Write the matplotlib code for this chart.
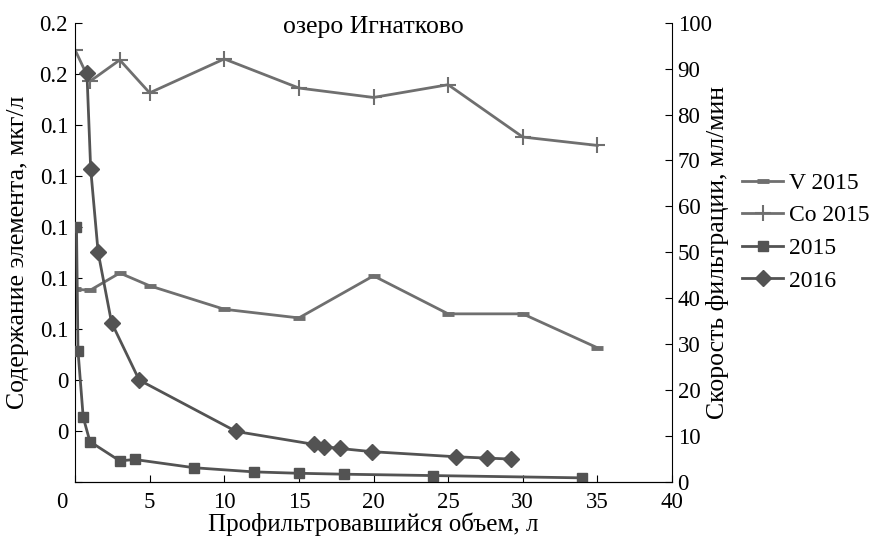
import matplotlib
matplotlib.use('Agg')
import matplotlib.pyplot as plt
import matplotlib.transforms as mtransforms
import numpy as np

plt.rcParams['font.family'] = ['Liberation Serif', 'DejaVu Serif']
plt.rcParams['font.size'] = 16.5

# concentration series (left axis), мкг/л
x_conc = [0, 1, 3, 5, 10, 15, 20, 25, 30, 35]
v_2015 = [0.0756, 0.0751, 0.0819, 0.0769, 0.0677, 0.0643, 0.0808, 0.0659, 0.0659, 0.0526]
co_2015 = [0.1694, 0.1570, 0.1654, 0.1525, 0.1658, 0.1544, 0.1507, 0.1557, 0.1352, 0.1319]

# filtration speed (right axis), мл/мин
x_2015 = [0.1, 0.2, 0.55, 1.0, 3, 4, 8, 12, 15, 18, 24, 34]
speed_2015 = [55.6, 28.6, 14.1, 8.8, 4.6, 4.9, 3.1, 2.2, 1.9, 1.7, 1.4, 0.9]
x_2016 = [0.8, 1.05, 1.55, 2.45, 4.3, 10.8, 16.0, 16.7, 17.75, 19.9, 25.5, 27.6, 29.2]
speed_2016 = [89.0, 68.2, 50.0, 34.7, 22.2, 11.0, 8.2, 7.7, 7.3, 6.6, 5.5, 5.2, 5.0]

left_ticks = np.arange(0, 0.181, 0.02)
right_ticks = np.arange(0, 101, 10)
x_ticks = np.arange(0, 41, 5)

light = '#6f6f6f'
dark = '#535353'

fig = plt.figure(figsize=(8.74, 5.4), dpi=100)
ax = fig.add_axes([75 / 874, 58 / 540, 597 / 874, 459.3 / 540])
ax2 = ax.twinx()

l1, = ax.plot(x_conc, v_2015, color=light, lw=2, marker='_', ms=9, mew=3.5, label='V 2015')
l2, = ax.plot(x_conc, co_2015, color=light, lw=2, marker='+', ms=11, mew=1.5, label='Co 2015')
l3, = ax2.plot(x_2015, speed_2015, color=dark, lw=2, marker='s', ms=7.5, label='2015')
l4, = ax2.plot(x_2016, speed_2016, color=dark, lw=2, marker='D', ms=8.5, label='2016')

ax.set_xlim(0, 40)
ax.set_ylim(0, 0.18)
ax2.set_ylim(0, 100)

ax.set_xticks(x_ticks)
ax.set_yticks(left_ticks)
# the corner "0" is shown once, by the x axis
ax.set_yticklabels(['' if v == 0 else ('0' if round(v, 1) == 0 else f'{v:.1f}') for v in left_ticks])
ax2.set_yticks(right_ticks)

for a in (ax, ax2):
    a.spines['top'].set_visible(False)
ax.spines['right'].set_visible(False)
ax2.spines['left'].set_visible(False)

ax.tick_params(axis='x', direction='in', length=5, pad=7)
ax.tick_params(axis='y', direction='in', length=5, pad=5)
ax2.tick_params(axis='y', direction='in', length=5, pad=4)

# shift x "0" label left, as in the original
first = ax.get_xticklabels()[0]
first.set_transform(first.get_transform() + mtransforms.ScaledTranslation(-13 / 100, 0, fig.dpi_scale_trans))

ax.set_xlabel('Профильтровавшийся объем, л', fontsize=18)
ax.set_ylabel('Содержание элемента, мкг/л', fontsize=18.5)
ax2.set_ylabel('Скорость фильтрации, мл/мин', fontsize=18.5)
ax.xaxis.set_label_coords(0.5, -0.0914)
ax.yaxis.set_label_coords(-0.0955, 0.5)
ax2.yaxis.set_label_coords(1.0754, 0.5)
ax.xaxis.label.set_va('center')
ax.yaxis.label.set_va('center')
ax2.yaxis.label.set_va('center')

ax.text(0.5, 0.99, 'озеро Игнатково', transform=ax.transAxes, ha='center', va='center', fontsize=18.5)

fig.legend(handles=[l1, l2, l3, l4], loc='center left', bbox_to_anchor=(742 / 874, 1 - 232 / 540),
           frameon=False, borderpad=0, borderaxespad=0, handlelength=1.74, handletextpad=0.25,
           labelspacing=0.47, fontsize=17)

fig.savefig('out.png', dpi=100)
